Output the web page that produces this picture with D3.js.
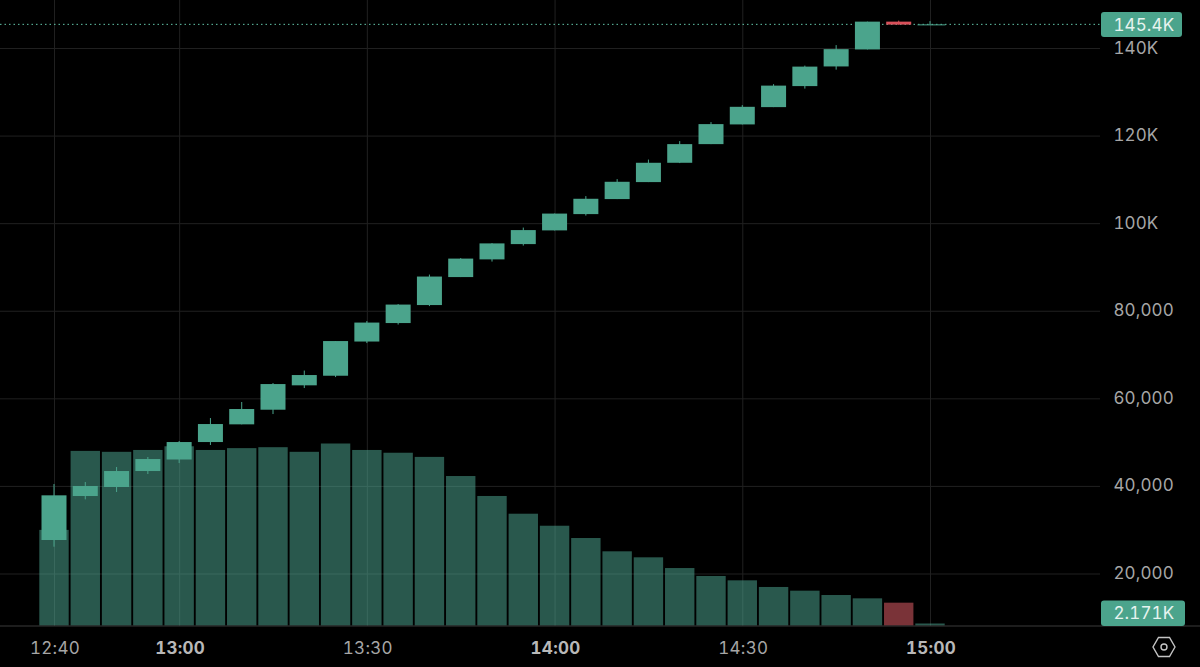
<!DOCTYPE html>
<html><head><meta charset="utf-8">
<script src="https://cdn.jsdelivr.net/npm/d3@7"></script>
<style>
html,body{margin:0;padding:0;background:#000;overflow:hidden}
svg{display:block}
text{font-family:Inter,"Noto Sans",sans-serif;font-variant-numeric:tabular-nums}
</style></head><body>
<svg id="c" width="1200" height="667"></svg>
<script>
const minutes = d3.range(0, 145, 5);
const opens  = [27650,37690,39750,43400,46030,50020,54060,57400,62970,65160,72970,77190,81300,87690,91730,95220,98350,102070,105500,109380,113790,118050,122550,126500,131300,135790,139670,146020,145340];
const closes = [37850,39980,43400,46140,50020,54130,57560,63260,65320,73080,77300,81410,87810,91910,95380,98420,102190,105570,109450,113790,118050,122620,126570,131410,135750,139740,146020,145340,145400];
const highs  = [40430,40890,44320,46600,50250,55500,59160,63490,66340,73080,77650,81530,88260,92030,95450,98990,102190,106180,110060,114520,118740,123080,126960,131750,135980,140660,146020,146250,146140];
const lows   = [26120,36930,38610,42720,45220,49340,54060,56410,62350,64860,72620,76850,81070,87690,91230,94880,98350,101730,105500,109380,113720,118050,122550,126500,130730,135060,139670,145340,145290];
const volumes = [103.5,189,188,190,194,190,192,193,188,197,190,187,182.5,161.8,140.2,121,108,94.7,80.3,73.8,62.2,53.6,48.9,41.7,37.7,33,29.4,24.7,2.171];
const priceTicks = [20000,40000,60000,80000,100000,120000,140000];
const priceLabels = ["20,000","40,000","60,000","80,000","100K","120K","140K"];
const timeTicks = [0,20,50,80,110,140];
const timeLabels = ["12:40","13:00","13:30","14:00","14:30","15:00"];
const boldTimes = ["13:00","14:00","15:00"];
const lastPrice = 145400;
const lastPriceLabel = "145.4K";
const lastVolumeLabel = "2.171K";

const C = {bg:"#000",grid:"#202020",up:"#4ba48c",down:"#d9505a",volUp:"#52b09a",volDown:"#f46670",text:"#a6a6a6",pill:"#4ba48c"};
const svg = d3.select("#c");
const x = d3.scaleLinear().domain([0,140]).range([54,930]);
const y = d3.scaleLinear().domain([20000,140000]).range([573.5,48]);
const vy = d3.scaleLinear().domain([0,197]).range([625.5,443.5]);
const right = 1100, bottom = 626;

svg.append("rect").attr("width",1200).attr("height",667).attr("fill",C.bg);

// grid
svg.append("g").attr("transform",`translate(${right},0)`)
 .call(d3.axisLeft(y).tickValues(priceTicks).tickSize(right).tickFormat(""))
 .call(g=>{g.select(".domain").remove();g.selectAll("line").attr("stroke",C.grid)});
svg.append("g").attr("transform",`translate(0,${bottom})`)
 .call(d3.axisTop(x).tickValues(timeTicks).tickSize(bottom).tickFormat(""))
 .call(g=>{g.select(".domain").remove();g.selectAll("line").attr("stroke",C.grid)});

// volume
const bw = 30;
svg.append("g").selectAll("rect").data(minutes).join("rect")
 .attr("x",m=>x(m)-bw/2+0.3).attr("width",bw-0.6)
 .attr("y",(m,i)=>vy(volumes[i])).attr("height",(m,i)=>vy(0)-vy(volumes[i]))
 .attr("fill",(m,i)=>closes[i]<opens[i]?C.volDown:C.volUp).attr("fill-opacity",.5);

// last price dotted
svg.append("line").attr("x1",0).attr("x2",right).attr("y1",y(lastPrice)).attr("y2",y(lastPrice))
 .attr("stroke","#62c4a8").attr("stroke-dasharray","1.5 3").attr("stroke-width",1);

// candles
const cw = 25;
const g = svg.append("g");
g.selectAll("line").data(minutes).join("line")
 .attr("x1",m=>x(m)).attr("x2",m=>x(m))
 .attr("y1",(m,i)=>y(highs[i])).attr("y2",(m,i)=>y(lows[i]))
 .attr("stroke",(m,i)=>closes[i]<opens[i]?C.down:C.up).attr("stroke-width",1);
g.selectAll("rect").data(minutes).join("rect")
 .attr("x",m=>x(m)-cw/2).attr("width",(m,i)=>i===28?28:cw)
 .attr("y",(m,i)=>y(Math.max(opens[i],closes[i])))
 .attr("height",(m,i)=>Math.max(1,Math.abs(y(opens[i])-y(closes[i]))))
 .attr("fill",(m,i)=>closes[i]<opens[i]?C.down:C.up);

// bottom axis line
svg.append("line").attr("x1",0).attr("x2",1200).attr("y1",bottom).attr("y2",bottom).attr("stroke","#3a3a3a");

// price labels
svg.append("g").selectAll("text").data(priceTicks).join("text")
 .attr("x",1113.5).attr("y",d=>y(d)+5.5).attr("fill",C.text).attr("font-size",17).attr("letter-spacing",0.1)
 .text((d,i)=>priceLabels[i]);
// time labels
svg.append("g").selectAll("text").data(timeTicks).join("text")
 .attr("x",d=>x(d)+1).attr("y",654).attr("text-anchor","middle").attr("fill",(d,i)=>boldTimes.includes(timeLabels[i])?"#b8b8b8":C.text)
 .attr("font-size",17).attr("font-weight",(d,i)=>boldTimes.includes(timeLabels[i])?700:400).attr("letter-spacing",0.3)
 .text((d,i)=>timeLabels[i]);

// pills
function pill(px,py,w,h,label){
 svg.append("rect").attr("x",px).attr("y",py).attr("width",w).attr("height",h).attr("rx",3).attr("fill",C.pill);
 svg.append("text").attr("x",px+12.5).attr("y",py+h/2+6).attr("fill","#e6f3ef").attr("font-size",17).attr("letter-spacing",0.1).text(label);
}
pill(1101,12,81,25,lastPriceLabel);
pill(1101,600.5,84,25.5,lastVolumeLabel);

// settings icon
const hex = d3.line()(d3.range(6).map(i=>{const a=i*Math.PI/3;return [1164+11*Math.cos(a),647+11*Math.sin(a)]}))+"Z";
svg.append("path").attr("d",hex).attr("fill","none").attr("stroke","#c4c4c4").attr("stroke-width",1.4);
svg.append("circle").attr("cx",1164).attr("cy",647).attr("r",3).attr("fill","none").attr("stroke","#c4c4c4").attr("stroke-width",1.4);
</script>
</body></html>
